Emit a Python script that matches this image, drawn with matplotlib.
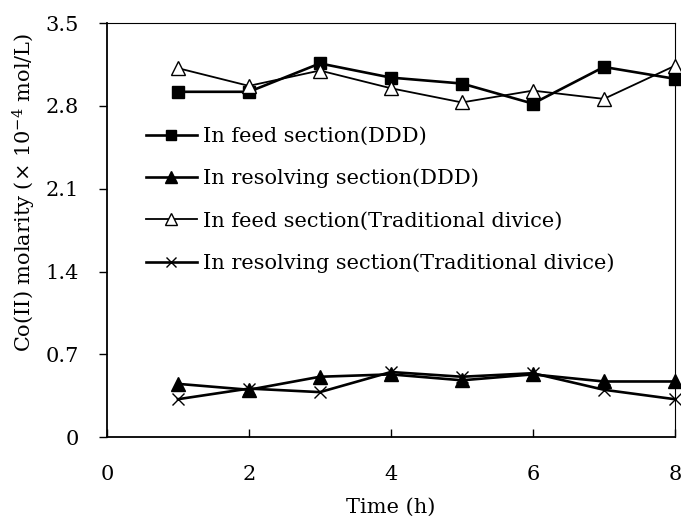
import matplotlib
matplotlib.use("Agg")
import matplotlib.pyplot as plt

plt.rcParams['font.family'] = ['DejaVu Serif']
plt.rcParams['mathtext.fontset'] = 'dejavuserif'

time_h = [1, 2, 3, 4, 5, 6, 7, 8]
feed_ddd = [2.92, 2.92, 3.16, 3.04, 2.99, 2.82, 3.13, 3.03]
resolve_ddd = [0.45, 0.40, 0.51, 0.53, 0.48, 0.53, 0.47, 0.47]
feed_trad = [3.12, 2.97, 3.10, 2.95, 2.83, 2.93, 2.86, 3.14]
resolve_trad = [0.32, 0.41, 0.38, 0.55, 0.51, 0.54, 0.40, 0.32]

labels = ["In feed section(DDD)", "In resolving section(DDD)",
          "In feed section(Traditional divice)", "In resolving section(Traditional divice)"]
xticks = [0, 2, 4, 6, 8]
yticks = [0, 0.7, 1.4, 2.1, 2.8, 3.5]
ytick_labels = ["0", "0.7", "1.4", "2.1", "2.8", "3.5"]

fig = plt.figure(figsize=(6.81, 5.16), dpi=100)
ax = fig.add_axes([0.157, 0.153, 0.834, 0.802])

lw = 1.9
ax.plot(time_h, feed_ddd, color='black', lw=lw, marker='s', ms=9, mfc='black', mec='black', label=labels[0], clip_on=False, zorder=3)
ax.plot(time_h, resolve_ddd, color='black', lw=lw, marker='^', ms=10, mfc='black', mec='black', label=labels[1], clip_on=False, zorder=3)
ax.plot(time_h, feed_trad, color='black', lw=1.3, marker='^', ms=10, mfc='white', mec='black', mew=1.0, label=labels[2], clip_on=False, zorder=3)
ax.plot(time_h, resolve_trad, color='black', lw=lw, marker='x', ms=9, mec='black', mew=1.0, label=labels[3], clip_on=False, zorder=3)

ax.set_xlim(0, 8)
ax.set_ylim(0, 3.5)
ax.set_xticks(xticks)
ax.set_yticks(yticks)
ax.set_yticklabels(ytick_labels)
ax.tick_params(axis='x', direction='in', length=6, width=1, labelsize=15, pad=20)
ax.tick_params(axis='y', direction='out', length=6, width=1, labelsize=15, pad=14)
for s in ['left', 'bottom']:
    ax.spines[s].set_linewidth(1.3)
for s in ['top', 'right']:
    ax.spines[s].set_linewidth(0.8)

ax.set_xlabel("Time (h)", fontsize=15, labelpad=10)
ax.set_ylabel("Co(II) molarity (× 10$^{-4}$ mol/L)", fontsize=15)
ax.yaxis.set_label_coords(-0.122, 0.592)

leg = ax.legend(loc='upper left', bbox_to_anchor=(0.035, 0.795), frameon=False, fontsize=15,
                handlelength=2.45, handletextpad=0.3, labelspacing=1.1, markerscale=0.8)

fig.savefig("out.png", dpi=100)
